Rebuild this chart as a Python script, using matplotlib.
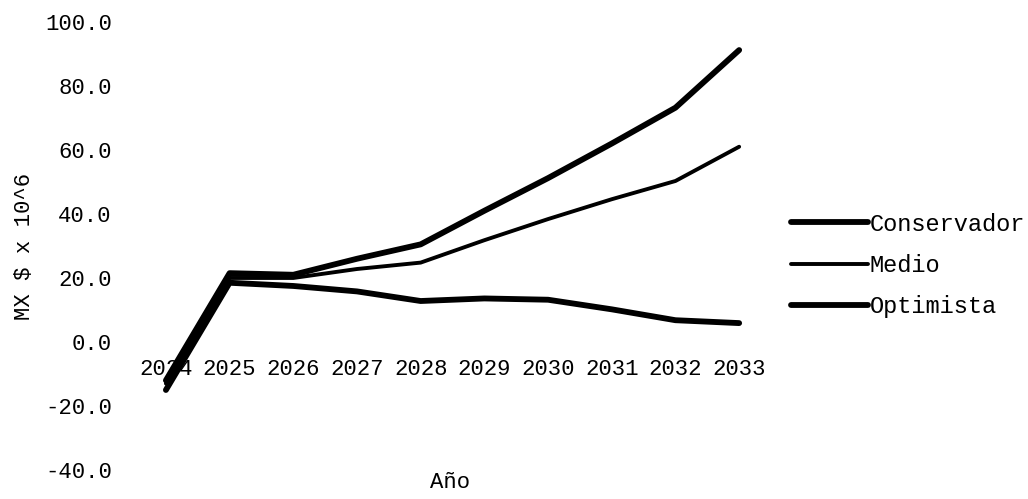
import matplotlib
matplotlib.use("Agg")
import matplotlib.pyplot as plt
from matplotlib.ticker import FormatStrFormatter

plt.rcParams['font.family'] = ['Liberation Mono', 'DejaVu Sans Mono']

years = [2024, 2025, 2026, 2027, 2028, 2029, 2030, 2031, 2032, 2033]
conservador = [-15.0, 18.5, 17.5, 15.8, 12.8, 13.6, 13.2, 10.2, 6.8, 5.9]
medio = [-13.0, 20.0, 20.0, 22.8, 24.8, 31.8, 38.4, 44.6, 50.3, 61.0]
optimista = [-12.0, 21.5, 21.0, 26.0, 30.5, 41.0, 51.2, 62.0, 73.2, 91.2]
y_ticks = [-40, -20, 0, 20, 40, 60, 80, 100]

fig = plt.figure(figsize=(10.28, 4.99), dpi=100)
ax = fig.add_axes([0.1304, 0.0581, 0.6196, 0.898])

ax.plot(years, conservador, color='black', lw=4.2, solid_capstyle='round',
        solid_joinstyle='round', label='Conservador')
ax.plot(years, medio, color='black', lw=2.8, solid_capstyle='round',
        solid_joinstyle='round', label='Medio')
ax.plot(years, optimista, color='black', lw=4.2, solid_capstyle='round',
        solid_joinstyle='round', label='Optimista')

ax.set_xlim(2023.5, 2033.5)
ax.set_ylim(-40, 100)
ax.set_yticks(y_ticks)
ax.yaxis.set_major_formatter(FormatStrFormatter('%.1f'))
ax.set_xticks(years)
ax.set_xticklabels([str(y) for y in years])

for s in ax.spines.values():
    s.set_visible(False)
ax.spines['bottom'].set_position(('data', 0))

ax.tick_params(axis='both', length=0, labelsize=16)
ax.tick_params(axis='y', pad=16)
ax.tick_params(axis='x', pad=12)

ax.set_ylabel('MX $ x 10^6', fontsize=16, labelpad=7)
fig.text(0.4375, 1 - 482 / 499, 'Año', fontsize=16, ha='center', va='center')

fig.legend(loc='center left', bbox_to_anchor=(0.769, 0.468), frameon=False,
           fontsize=17, handlelength=3.3, handletextpad=0.05, labelspacing=0.78,
           borderpad=0, borderaxespad=0)

fig.savefig('out.png', dpi=100)
